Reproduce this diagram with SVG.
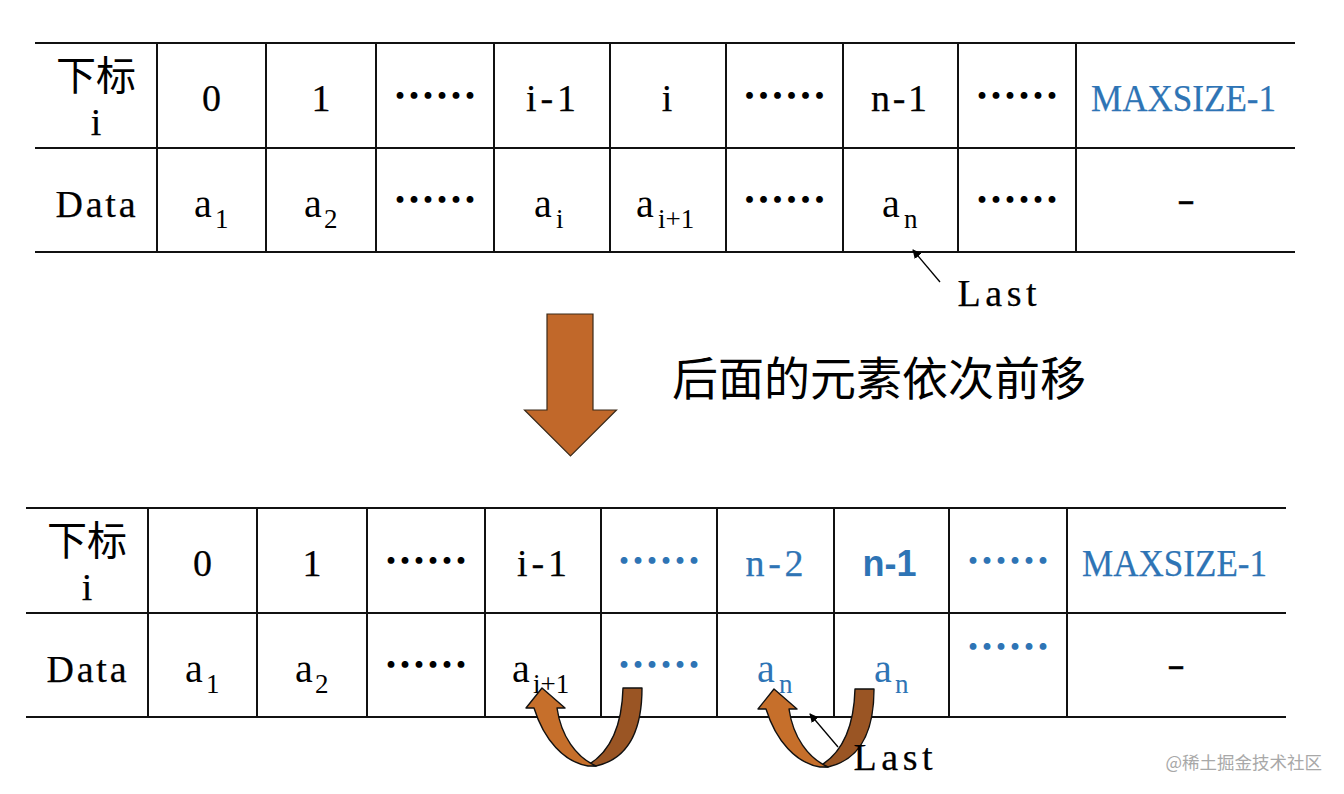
<svg xmlns="http://www.w3.org/2000/svg" width="1344" height="794" viewBox="0 0 1344 794">
<style>
.grid line{stroke:#111;stroke-width:2}
.lbl{font-family:"Liberation Serif",serif;font-size:38px;fill:#000;stroke:#000;stroke-width:0.25;text-anchor:middle}
.cjk{font-family:"Noto Sans CJK SC",sans-serif;font-size:40px;fill:#000;text-anchor:middle}
.a{font-family:"Liberation Serif",serif;font-size:40px;fill:#000}
.sub{font-size:27px}
.dots{font-family:"Noto Sans CJK SC",sans-serif;font-size:42px;font-weight:bold;fill:#000;text-anchor:middle}
.blue{fill:#2E74B5;stroke:#2E74B5}
.dots.blue,.a.blue{stroke:none}
.bold{font-family:"Liberation Sans",sans-serif;font-weight:bold;font-size:36px;fill:#2E74B5;text-anchor:middle}
.big{fill:#C1682A;stroke:#3a2a1a;stroke-width:1.2}
.lt{fill:#C66F2B;stroke:#111;stroke-width:1.4;stroke-linejoin:round}
.dk{fill:#9A5524;stroke:#111;stroke-width:1.4;stroke-linejoin:round}
.ptr{stroke:#000;stroke-width:1.3;fill:none;marker-end:url(#ah)}
</style>
<defs>
<marker id="ah" viewBox="0 0 10 10" refX="9" refY="5" markerWidth="9" markerHeight="9" markerUnits="userSpaceOnUse" orient="auto">
<path d="M0,0 L10,5 L0,10 Z" fill="#000"/>
</marker>
<g id="uturn">
<path class="dk" d="M623 688 L642 688 C642 725 632 758 596 766 L588 765 C610 752 622 725 623 688 Z"/>
<path class="lt" d="M542 688 L565 708 L557 708 C561 736 576 757 596 766 L588 766 C564 762 544 740 534 708 L526 708 Z"/>
</g>
</defs>
<rect width="1344" height="794" fill="#fff"/>

<g id="table-top">
<g class="grid">
<line x1="35" y1="43" x2="1295" y2="43"/>
<line x1="35" y1="148" x2="1295" y2="148"/>
<line x1="35" y1="252" x2="1295" y2="252"/>
<line x1="157" y1="43" x2="157" y2="252"/>
<line x1="266" y1="43" x2="266" y2="252"/>
<line x1="376" y1="43" x2="376" y2="252"/>
<line x1="494" y1="43" x2="494" y2="252"/>
<line x1="610" y1="43" x2="610" y2="252"/>
<line x1="726" y1="43" x2="726" y2="252"/>
<line x1="843" y1="43" x2="843" y2="252"/>
<line x1="958" y1="43" x2="958" y2="252"/>
<line x1="1076" y1="43" x2="1076" y2="252"/>
</g>
<text class="cjk" x="96" y="90">下标</text>
<text class="lbl" x="96" y="135">i</text>
<text class="lbl" x="211.5" y="111">0</text>
<text class="lbl" x="321" y="111">1</text>
<text class="dots" x="435" y="111">……</text>
<text class="lbl" x="551" y="111" font-size="40" textLength="50" lengthAdjust="spacing">i-1</text>
<text class="lbl" x="667" y="111">i</text>
<text class="dots" x="784.5" y="111">……</text>
<text class="lbl" x="899" y="111" font-size="40" textLength="56" lengthAdjust="spacing">n-1</text>
<text class="dots" x="1017" y="111">……</text>
<text class="lbl blue" x="1183.5" y="111" font-size="42" textLength="185" lengthAdjust="spacingAndGlyphs">MAXSIZE-1</text>
<text class="lbl" x="95.5" y="217" font-size="40" textLength="80" lengthAdjust="spacing">Data</text>
<text class="a" x="194" y="217">a<tspan class="sub" x="215" y="228">1</tspan></text>
<text class="a" x="304" y="217">a<tspan class="sub" x="324" y="228">2</tspan></text>
<text class="dots" x="435" y="215">……</text>
<text class="a" x="534" y="217">a<tspan class="sub" x="556" y="228">i</tspan></text>
<text class="a" x="636" y="217">a<tspan class="sub" x="658" y="228">i+1</tspan></text>
<text class="dots" x="784.5" y="215">……</text>
<text class="a" x="882" y="217">a<tspan class="sub" x="904" y="228">n</tspan></text>
<text class="dots" x="1017" y="215">……</text>
<text class="lbl" x="1186" y="212" font-size="52" stroke-width="0.8" textLength="18" lengthAdjust="spacingAndGlyphs">-</text>
</g>

<g id="last-top">
<line class="ptr" x1="940" y1="282" x2="913" y2="250"/>
<text class="lbl" x="997" y="306" font-size="44" textLength="79" lengthAdjust="spacing">Last</text>
</g>

<g id="down-arrow">
<path class="big" d="M547 314 L593 314 L593 410 L616.5 410 L570.5 456 L524.5 410 L547 410 Z"/>
</g>
<g id="caption">
<text x="672" y="395" font-family="Noto Sans CJK SC, sans-serif" font-size="46" fill="#000">后面的元素依次前移</text>
</g>

<g id="table-bottom">
<g class="grid">
<line x1="26" y1="508" x2="1286" y2="508"/>
<line x1="26" y1="613" x2="1286" y2="613"/>
<line x1="26" y1="717" x2="1286" y2="717"/>
<line x1="148" y1="508" x2="148" y2="717"/>
<line x1="257" y1="508" x2="257" y2="717"/>
<line x1="367" y1="508" x2="367" y2="717"/>
<line x1="485" y1="508" x2="485" y2="717"/>
<line x1="601" y1="508" x2="601" y2="717"/>
<line x1="717" y1="508" x2="717" y2="717"/>
<line x1="834" y1="508" x2="834" y2="717"/>
<line x1="949" y1="508" x2="949" y2="717"/>
<line x1="1067" y1="508" x2="1067" y2="717"/>
</g>
<text class="cjk" x="87" y="555">下标</text>
<text class="lbl" x="87" y="600">i</text>
<text class="lbl" x="202.5" y="576">0</text>
<text class="lbl" x="312" y="576">1</text>
<text class="dots" x="426" y="576">……</text>
<text class="lbl" x="542" y="576" font-size="40" textLength="50" lengthAdjust="spacing">i-1</text>
<text class="dots blue" x="659" y="576">……</text>
<text class="lbl blue" x="774.5" y="576" font-size="40" textLength="58" lengthAdjust="spacing">n-2</text>
<text class="bold" x="889.5" y="576">n-1</text>
<text class="dots blue" x="1008" y="576">……</text>
<text class="lbl blue" x="1174.5" y="576" font-size="42" textLength="185" lengthAdjust="spacingAndGlyphs">MAXSIZE-1</text>
<text class="lbl" x="86.5" y="682" font-size="40" textLength="80" lengthAdjust="spacing">Data</text>
<text class="a" x="185" y="682">a<tspan class="sub" x="206" y="693">1</tspan></text>
<text class="a" x="295" y="682">a<tspan class="sub" x="315" y="693">2</tspan></text>
<text class="dots" x="426" y="680">……</text>
<text class="a" x="512" y="682">a<tspan class="sub" x="533" y="693">i+1</tspan></text>
<text class="dots blue" x="659" y="680">……</text>
<text class="a blue" x="757" y="682">a<tspan class="sub" x="779" y="693">n</tspan></text>
<text class="a blue" x="874" y="682">a<tspan class="sub" x="895" y="693">n</tspan></text>
<text class="dots blue" x="1008" y="662">……</text>
<text class="lbl" x="1176" y="677" font-size="52" stroke-width="0.8" textLength="18" lengthAdjust="spacingAndGlyphs">-</text>
</g>

<g id="uturn-arrows">
<use href="#uturn"/>
<use href="#uturn" transform="translate(232,1)"/>
</g>

<g id="last-bottom">
<line class="ptr" x1="838" y1="747" x2="810" y2="714"/>
<text class="lbl" x="893" y="770" font-size="44" textLength="79" lengthAdjust="spacing">Last</text>
</g>

<g id="watermark">
<text x="1322" y="769" font-family="Noto Sans CJK SC, sans-serif" font-size="17.5" fill="#a8a8a8" text-anchor="end">@稀土掘金技术社区</text>
</g>
</svg>
